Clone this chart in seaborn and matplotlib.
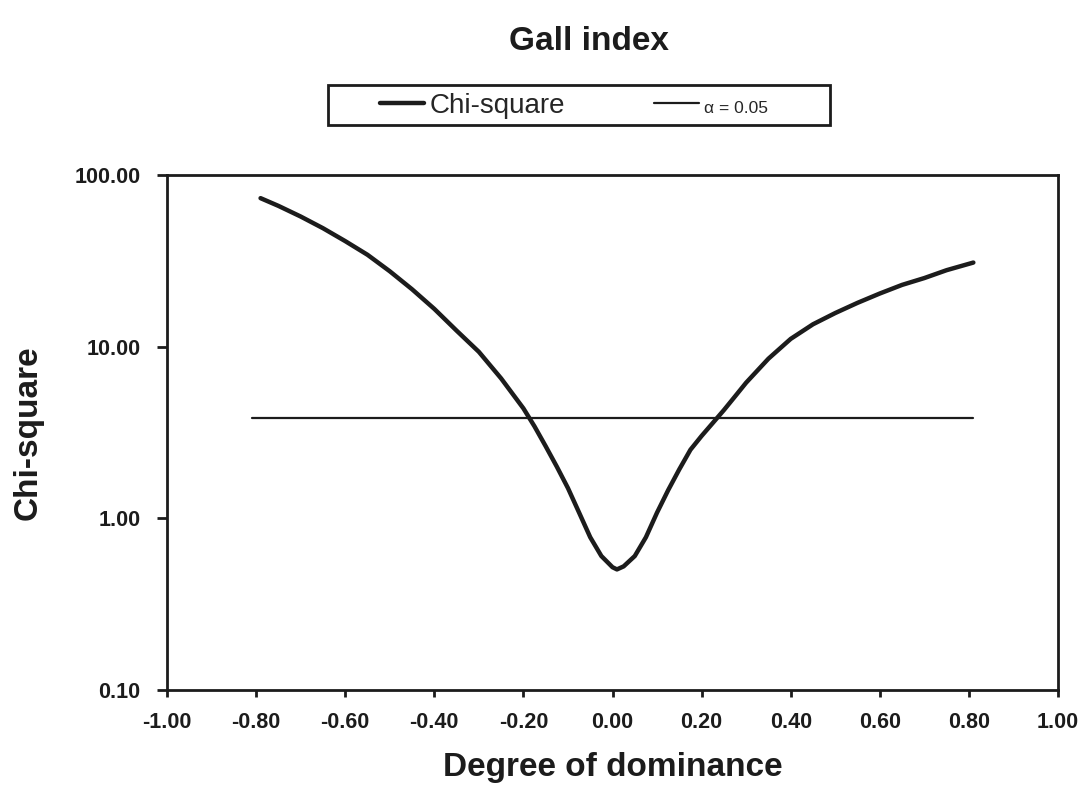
import matplotlib as mlp
mlp.use('Agg')
import matplotlib.pyplot as plt
from matplotlib.patches import Rectangle
from matplotlib.ticker import FixedLocator, NullLocator, FormatStrFormatter
import seaborn as sns
import pandas as pd

#>> Data
dominance = [-0.79, -0.75, -0.70, -0.65, -0.60, -0.55, -0.50, -0.45, -0.40, -0.35,
             -0.30, -0.25, -0.20, -0.175, -0.15, -0.125, -0.10, -0.075, -0.05, -0.025,
             0.00, 0.01, 0.025, 0.05, 0.075, 0.10, 0.125, 0.15, 0.175, 0.20,
             0.225, 0.25, 0.275, 0.30, 0.35, 0.40, 0.45, 0.50, 0.55, 0.60,
             0.65, 0.70, 0.75, 0.81]
chi_square = [73.3, 66.1, 57.3, 49.0, 41.2, 34.3, 27.5, 21.6, 16.6, 12.4,
              9.33, 6.53, 4.37, 3.43, 2.63, 2.00, 1.50, 1.08, 0.776, 0.603,
              0.519, 0.504, 0.525, 0.603, 0.776, 1.08, 1.46, 1.93, 2.51, 3.02,
              3.59, 4.27, 5.13, 6.17, 8.51, 11.1, 13.5, 15.7, 18.0, 20.4,
              22.9, 25.1, 27.9, 30.9]
alpha_x = [-0.81, 0.81]
alpha_y = [3.84, 3.84]
y_ticks = [0.1, 1, 10, 100]
x_ticks = [-1.0, -0.8, -0.6, -0.4, -0.2, 0.0, 0.2, 0.4, 0.6, 0.8, 1.0]

curve = pd.DataFrame({'dominance': dominance, 'chi': chi_square})
crit = pd.DataFrame({'dominance': alpha_x, 'chi': alpha_y})

sns.set_style('ticks')
plt.rcParams['font.family'] = ['Liberation Sans', 'DejaVu Sans']
ink = '#1c1c1c'

fig = plt.figure(figsize=(10.84, 8), dpi=100)
ax = fig.add_axes([167/1084, 110/800, 891/1084, 515/800])

sns.lineplot(data=curve, x='dominance', y='chi', ax=ax, color=ink, lw=3.2,
             label='Chi-square', solid_joinstyle='round')
sns.lineplot(data=crit, x='dominance', y='chi', ax=ax, color=ink, lw=1.6, label='\u03b1 = 0.05')

ax.set_yscale('log')
ax.set_ylim(0.1, 100)
ax.set_xlim(-1, 1)
ax.yaxis.set_major_locator(FixedLocator(y_ticks))
ax.yaxis.set_minor_locator(NullLocator())
ax.yaxis.set_major_formatter(FormatStrFormatter('%.2f'))
ax.xaxis.set_major_locator(FixedLocator(x_ticks))
ax.xaxis.set_major_formatter(FormatStrFormatter('%.2f'))

for s in ax.spines.values():
    s.set_linewidth(2)
    s.set_color(ink)
ax.tick_params(axis='y', direction='out', length=7, width=2, pad=12, labelsize=15.5, colors=ink)
ax.tick_params(axis='x', direction='out', length=5, width=2, pad=11, labelsize=15.5, colors=ink)
for t in ax.get_xticklabels() + ax.get_yticklabels():
    t.set_fontweight('bold')

ax.set_xlabel('Degree of dominance', fontsize=24, fontweight='bold', color=ink)
ax.set_ylabel('Chi-square', fontsize=24, fontweight='bold', color=ink)
ax.xaxis.set_label_coords(0.5, -0.12)
ax.yaxis.set_label_coords(-0.139, 0.5)

fig.text(589/1084, 1 - 42/800, 'Gall index', ha='center', va='center',
         fontsize=24, fontweight='bold', color=ink)

#>> Legend above the plot with its own box
handles, labels = ax.get_legend_handles_labels()
ax.get_legend().remove()
leg = fig.legend(handles, labels, loc='center left', bbox_to_anchor=(380/1084, 1 - 106/800),
                 ncol=2, frameon=False, fontsize=20, handlelength=1.6, handletextpad=0.2,
                 columnspacing=3.2, borderpad=0, borderaxespad=0)
leg.get_texts()[1].set_fontsize(12.5)
fig.add_artist(Rectangle((328/1084, 1 - 125/800), 502/1084, 40/800, transform=fig.transFigure,
                         fill=False, lw=2, edgecolor=ink))

fig.savefig('out.png', dpi=100, facecolor='white')
